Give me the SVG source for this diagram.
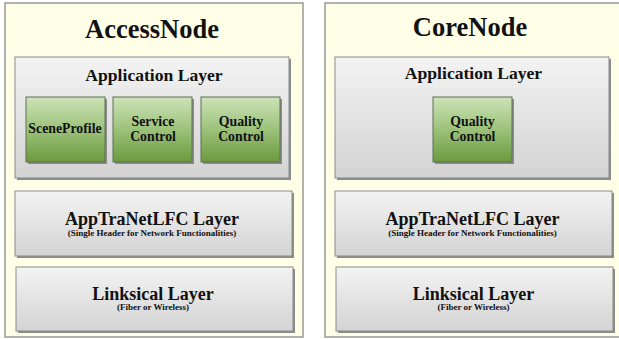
<svg xmlns="http://www.w3.org/2000/svg" width="619" height="339" viewBox="0 0 619 339">
  <defs>
    <linearGradient id="grayGrad" x1="0" y1="0" x2="0" y2="1">
      <stop offset="0" stop-color="#f3f3f3"/>
      <stop offset="1" stop-color="#d3d3d3"/>
    </linearGradient>
    <linearGradient id="greenGrad" x1="0" y1="0" x2="0" y2="1">
      <stop offset="0" stop-color="#cde3b8"/>
      <stop offset="0.5" stop-color="#9cc27a"/>
      <stop offset="1" stop-color="#6b9a3e"/>
    </linearGradient>
    <style>
      .panel { fill: #ffffe8; stroke: #7f7f7f; stroke-width: 1.2; }
      .shadow { fill: #8c8c8c; }
      .layer { fill: url(#grayGrad); stroke: #8a8a8a; stroke-width: 1; }
      .func { fill: url(#greenGrad); stroke: #5f6f55; stroke-width: 1; }
      text { font-family: "Liberation Serif", "Times New Roman", serif; font-weight: bold; fill: #111; text-anchor: middle; }
      .title { font-size: 26.5px; }
      .layerTitle { font-size: 17.6px; }
      .bigTitle { font-size: 18px; }
      .sub { font-size: 9px; }
      .func-label { font-size: 13.8px; }
    </style>
  </defs>

  <rect width="619" height="339" fill="#ffffff"/>

  <!-- Access node -->
  <g id="access-node">
    <rect class="panel" x="5" y="3" width="298" height="334"/>
    <text class="title" x="152" y="38">AccessNode</text>

    <g id="access-app-layer">
      <rect class="shadow" x="17" y="59" width="274" height="121"/>
      <rect class="layer" x="15" y="57" width="274" height="121"/>
      <text class="layerTitle" x="154" y="81">Application Layer</text>
    </g>

    <g id="access-sceneprofile">
      <rect class="shadow" x="28" y="99" width="79" height="65"/>
      <rect class="func" x="26" y="97" width="79" height="65"/>
      <text class="func-label" x="65" y="133">SceneProfile</text>
    </g>

    <g id="access-service-control">
      <rect class="shadow" x="115" y="99" width="79" height="65"/>
      <rect class="func" x="113" y="97" width="79" height="65"/>
      <text class="func-label" x="153" y="126">Service</text>
      <text class="func-label" x="153" y="140.5">Control</text>
    </g>

    <g id="access-quality-control">
      <rect class="shadow" x="203" y="99" width="79" height="65"/>
      <rect class="func" x="201" y="97" width="79" height="65"/>
      <text class="func-label" x="241" y="126">Quality</text>
      <text class="func-label" x="241" y="140.5">Control</text>
    </g>

    <g id="access-apptranetlfc-layer">
      <rect class="shadow" x="17" y="193" width="277" height="65"/>
      <rect class="layer" x="15" y="191" width="277" height="65"/>
      <text class="bigTitle" x="152" y="224.5">AppTraNetLFC Layer</text>
      <text class="sub" x="152" y="235.5">(Single Header for Network Functionalities)</text>
    </g>

    <g id="access-linksical-layer">
      <rect class="shadow" x="18" y="269" width="277" height="64"/>
      <rect class="layer" x="16" y="267" width="277" height="64"/>
      <text class="bigTitle" x="153" y="299.5">Linksical Layer</text>
      <text class="sub" x="153" y="310">(Fiber or Wireless)</text>
    </g>
  </g>

  <!-- Core node -->
  <g id="core-node">
    <rect class="panel" x="325" y="3" width="298" height="334"/>
    <text class="title" x="470" y="36">CoreNode</text>

    <g id="core-app-layer">
      <rect class="shadow" x="337" y="59" width="274" height="121"/>
      <rect class="layer" x="335" y="57" width="274" height="121"/>
      <text class="layerTitle" x="473.5" y="79">Application Layer</text>
    </g>

    <g id="core-quality-control">
      <rect class="shadow" x="435" y="99" width="79" height="65"/>
      <rect class="func" x="433" y="97" width="79" height="65"/>
      <text class="func-label" x="472.5" y="126">Quality</text>
      <text class="func-label" x="472.5" y="140.5">Control</text>
    </g>

    <g id="core-apptranetlfc-layer">
      <rect class="shadow" x="337" y="193" width="277" height="65"/>
      <rect class="layer" x="335" y="191" width="277" height="65"/>
      <text class="bigTitle" x="472.5" y="224.5">AppTraNetLFC Layer</text>
      <text class="sub" x="472.5" y="235.5">(Single Header for Network Functionalities)</text>
    </g>

    <g id="core-linksical-layer">
      <rect class="shadow" x="338" y="269" width="277" height="64"/>
      <rect class="layer" x="336" y="267" width="277" height="64"/>
      <text class="bigTitle" x="473.5" y="299.5">Linksical Layer</text>
      <text class="sub" x="473.5" y="310">(Fiber or Wireless)</text>
    </g>
  </g>

  <!-- no connectors in this diagram -->
  <g id="connectors"/>
</svg>
